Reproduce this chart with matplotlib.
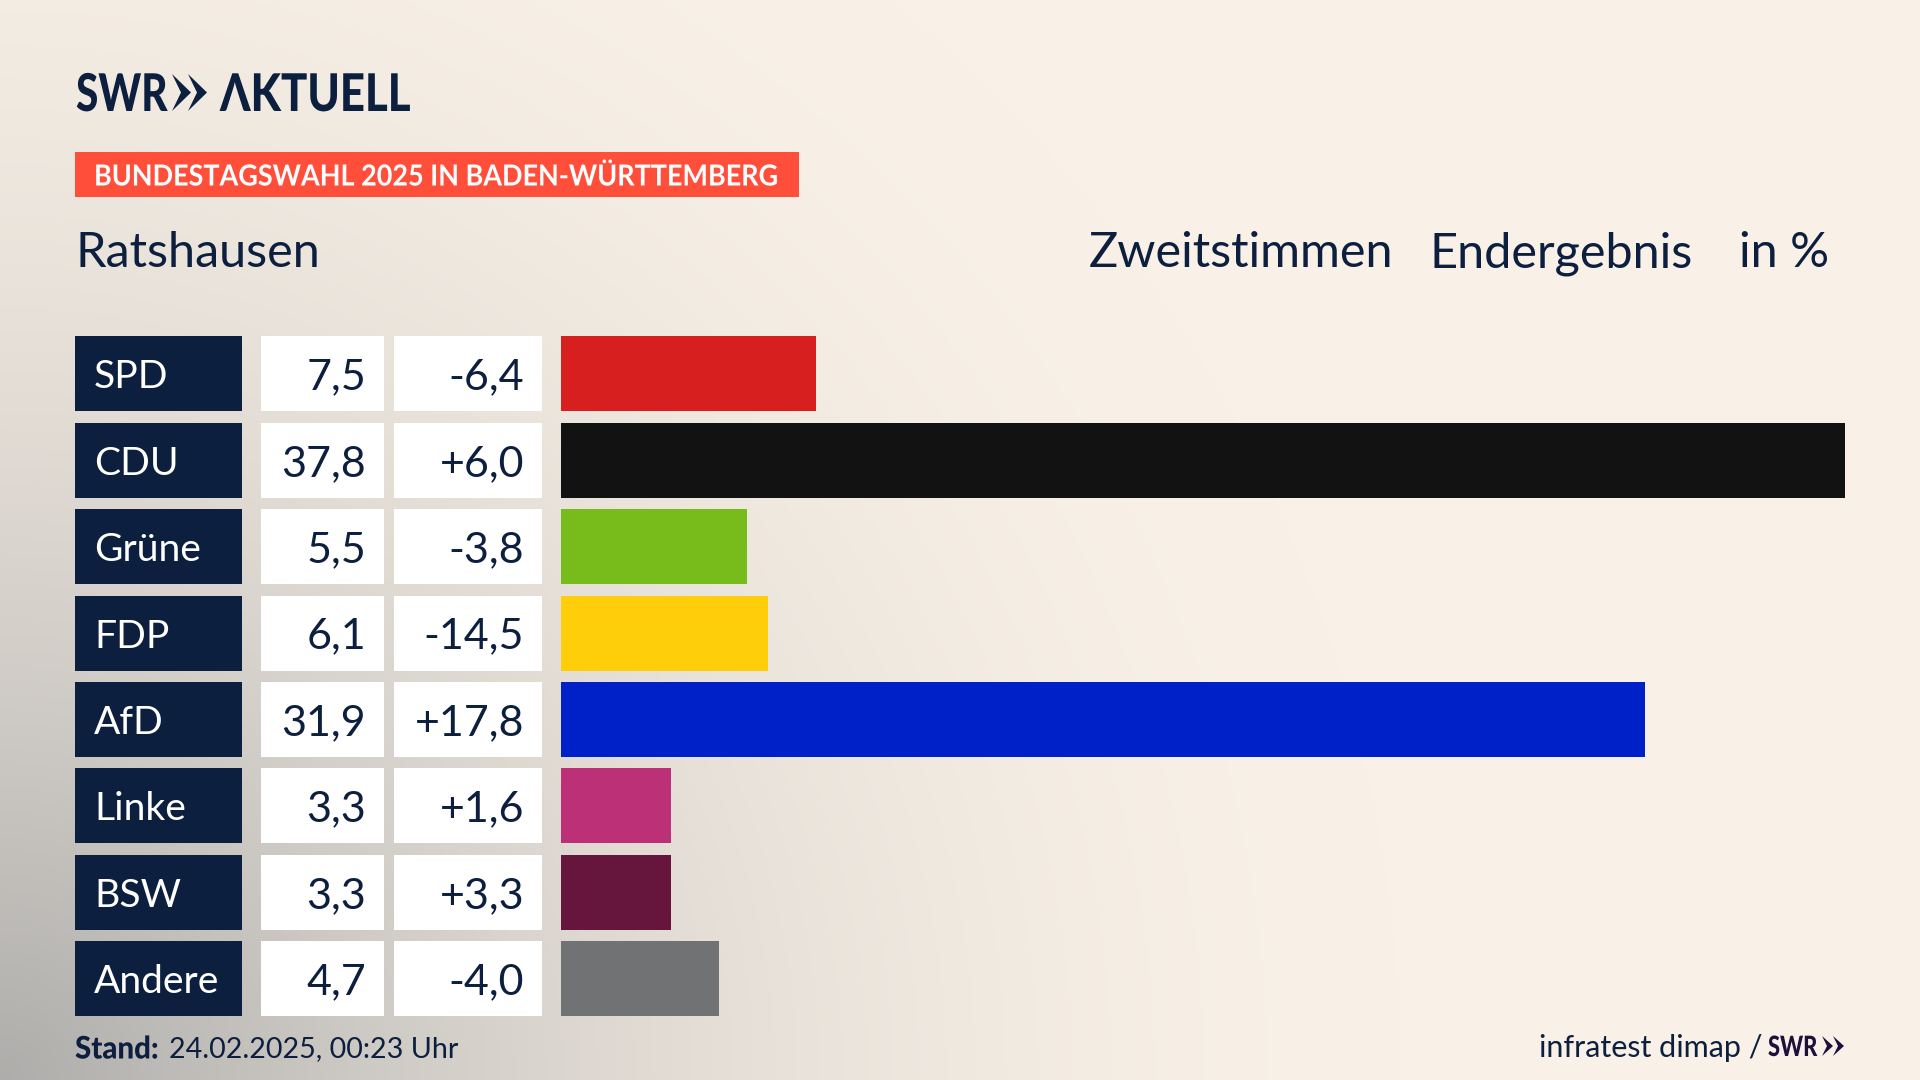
import numpy as np
import matplotlib
matplotlib.use('Agg')
import matplotlib.pyplot as plt
from matplotlib.patches import Rectangle, Polygon
from matplotlib.patheffects import AbstractPathEffect
from matplotlib.transforms import Affine2D

parties = ['SPD', 'CDU', 'Grüne', 'FDP', 'AfD', 'Linke', 'BSW', 'Andere']
# bar lengths as measured, a bit finer than the printed labels
shares = [7.5, 37.8, 5.47, 6.1, 31.9, 3.25, 3.25, 4.65]
share_labels = ['7,5', '37,8', '5,5', '6,1', '31,9', '3,3', '3,3', '4,7']
diff_labels = ['-6,4', '+6,0', '-3,8', '-14,5', '+17,8', '+1,6', '+3,3', '-4,0']
bar_colors = ['#D81F1F', '#121212', '#78BC1B', '#FFCE0A', '#0020C8', '#BC3078', '#66163D', '#717274']

NAVY = '#0C1F3F'
LOGO_DARK = '#1E0F3C'
W, H = 1920, 1080
plt.rcParams['font.family'] = ['Lato', 'DejaVu Sans']


def pt(px):
    return px * 0.72


class Squeeze(AbstractPathEffect):
    # narrows text horizontally around x0 (no condensed font installed)
    def __init__(self, sx, x0):
        super().__init__()
        self.sx = sx
        self.x0 = x0

    def draw_path(self, renderer, gc, tpath, affine, rgbFace=None):
        t = affine + Affine2D().translate(-self.x0, 0).scale(self.sx, 1).translate(self.x0, 0)
        renderer.draw_path(gc, tpath, t, rgbFace)


def chevrons(ax, x_list, w, notch, top, bottom, color):
    mid = (top + bottom) / 2
    for x0 in x_list:
        ax.add_patch(Polygon([(x0, top), (x0 + w, mid), (x0, bottom), (x0 + notch, mid)], color=color, lw=0))


fig = plt.figure(figsize=(19.2, 10.8), dpi=100)

# page in pixel coordinates, y going down
page = fig.add_axes([0, 0, 1, 1])
page.set_xlim(0, W)
page.set_ylim(H, 0)
page.axis('off')

# grey haze from the lower left corner
yy, xx = np.mgrid[0:H:4, 0:W:4]
d = np.sqrt((xx / 1400) ** 2 + ((H - yy) / 1400) ** 2)
t = np.clip(1 - d, 0, 1) ** 1.8
cream = np.array([249, 241, 231]) / 255
grey = np.array([174, 173, 171]) / 255
img = cream[None, None, :] * (1 - t[..., None]) + grey[None, None, :] * t[..., None]
page.imshow(img, extent=[0, W, H, 0], aspect='auto', zorder=0)

# logo
page.text(76, 111, 'SWR', fontsize=pt(52), fontweight='black', color=NAVY, va='baseline',
          path_effects=[Squeeze(0.78, 76)])
chevrons(page, (172, 188), 19, 9, 74, 111, NAVY)
page.text(220, 111, 'ΛKTUELL', fontsize=pt(52), fontweight='black', color=NAVY, va='baseline',
          path_effects=[Squeeze(0.84, 220)])

# badge
page.add_patch(Rectangle((75, 152), 724, 45, color='#FF4F3B', lw=0))
page.text(94, 175, 'BUNDESTAGSWAHL 2025 IN BADEN-WÜRTTEMBERG', fontsize=pt(29), fontweight='bold',
          color='white', va='center_baseline', path_effects=[Squeeze(0.93, 94)])

# header line
page.text(76, 249, 'Ratshausen', fontsize=pt(48.6), color=NAVY, va='center_baseline')
page.text(1089, 249, 'Zweitstimmen', fontsize=pt(48.6), color=NAVY, va='center_baseline')
page.text(1429, 249, 'Endergebnis', fontsize=pt(48.6), color=NAVY, va='center_baseline')
page.text(1739, 249, 'in %', fontsize=pt(48.6), color=NAVY, va='center_baseline')

# table columns
row_top = 336.4
row_h = 75
row_step = 86.4
for i, party in enumerate(parties):
    y = row_top + i * row_step
    yc = y + row_h / 2
    page.add_patch(Rectangle((75, y), 167, row_h, color=NAVY, lw=0))
    page.add_patch(Rectangle((261, y), 123, row_h, color='white', lw=0))
    page.add_patch(Rectangle((394, y), 148, row_h, color='white', lw=0))
    page.text(94, yc, party, fontsize=pt(39), color='white', va='center_baseline')
    page.text(366, yc, share_labels[i], fontsize=pt(43), color=NAVY, ha='right', va='center_baseline')
    page.text(524, yc, diff_labels[i], fontsize=pt(43), color=NAVY, ha='right', va='center_baseline')

# bars
ax = fig.add_axes([561 / W, 0, (1845 - 561) / W, 1], facecolor='none')
ax.set_xlim(0, max(shares))
ax.set_ylim((H - row_top) / row_step, -row_top / row_step)
ypos = np.arange(len(parties)) + row_h / row_step / 2
ax.barh(ypos, shares, height=row_h / row_step, color=bar_colors)
ax.axis('off')

# footer
page.text(75, 1047, 'Stand:', fontsize=pt(31), fontweight='black', color=NAVY, va='center_baseline',
          path_effects=[Squeeze(0.95, 75)])
page.text(169, 1047, '24.02.2025, 00:23 Uhr', fontsize=pt(28.6), color=NAVY, va='center_baseline')
page.text(1539, 1046, 'infratest dimap /', fontsize=pt(30.5), color=NAVY, va='center_baseline')
page.text(1768, 1056, 'SWR', fontsize=pt(28), fontweight='black', color=LOGO_DARK, va='baseline',
          path_effects=[Squeeze(0.78, 1768)])
chevrons(page, (1822, 1833), 11, 5, 1036, 1056, LOGO_DARK)

fig.savefig('out.png', dpi=100)
